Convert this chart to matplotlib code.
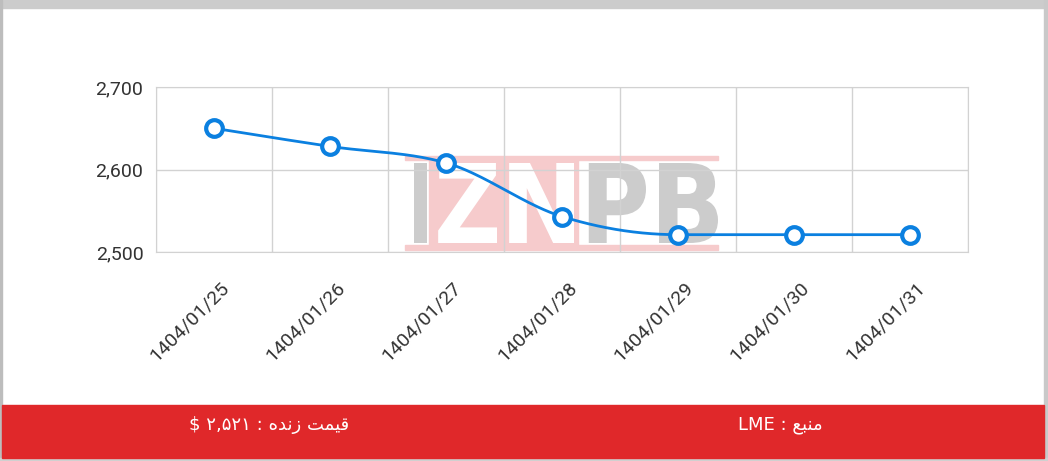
import matplotlib
matplotlib.use('Agg')
import matplotlib.pyplot as plt
import numpy as np
from matplotlib.patches import Rectangle, PathPatch
from matplotlib.textpath import TextPath
from matplotlib.font_manager import FontProperties
from matplotlib.path import Path
import matplotlib.transforms as mtransforms

# داده‌ها
dates = ['1404/01/25', '1404/01/26', '1404/01/27', '1404/01/28',
         '1404/01/29', '1404/01/30', '1404/01/31']
prices = [2650, 2628, 2608, 2543, 2521, 2521, 2521]
y_ticks = [2500, 2600, 2700]

# متن فوتر (حروف شکل‌یافته، ترتیب نمایشی چپ به راست)
live_price = '$ \u06f2,\u06f5\u06f2\u06f1 : \ufee9\ufeaa\ufee7\ufeaf \ufe96\ufee4\ufef4\ufed7'
source = 'LME : \ufeca\ufe92\ufee8\ufee3'

W, H = 1048, 461
BLUE = '#0B80E0'
RED = '#E0282A'


def monotone_curve(xs, ys, n=40):
    # منحنی monotone مثل d3 برای رسم خط نرم
    xs = np.asarray(xs, float)
    ys = np.asarray(ys, float)
    m = len(xs)
    t = np.zeros(m)
    for i in range(1, m - 1):
        h0, h1 = xs[i] - xs[i - 1], xs[i + 1] - xs[i]
        s0, s1 = (ys[i] - ys[i - 1]) / h0, (ys[i + 1] - ys[i]) / h1
        p = (s0 * h1 + s1 * h0) / (h0 + h1)
        t[i] = (np.sign(s0) + np.sign(s1)) * min(abs(s0), abs(s1), 0.5 * abs(p))
    t[0] = (3 * (ys[1] - ys[0]) / (xs[1] - xs[0]) - t[1]) / 2
    t[-1] = (3 * (ys[-1] - ys[-2]) / (xs[-1] - xs[-2]) - t[-2]) / 2
    px, py = [], []
    u = np.linspace(0, 1, n)
    for i in range(m - 1):
        dx = (xs[i + 1] - xs[i]) / 3
        P = [(xs[i], ys[i]), (xs[i] + dx, ys[i] + dx * t[i]),
             (xs[i + 1] - dx, ys[i + 1] - dx * t[i + 1]), (xs[i + 1], ys[i + 1])]
        b = [(1 - u) ** 3, 3 * (1 - u) ** 2 * u, 3 * (1 - u) * u ** 2, u ** 3]
        px.extend(sum(b[k] * P[k][0] for k in range(4)))
        py.extend(sum(b[k] * P[k][1] for k in range(4)))
    return np.array(px), np.array(py)


def fx(x):
    return x / W


def fy(y):
    return 1 - y / H


def letter(fig, ch, x0, y0, x1, y1, color):
    # یک حرف را در یک جعبه پیکسلی قرار می‌دهد
    tp = TextPath((0, 0), ch, size=100, prop=FontProperties(family='DejaVu Sans', weight='bold'))
    v = tp.vertices.copy()
    bx0, by0 = v[:, 0].min(), v[:, 1].min()
    bx1, by1 = v[:, 0].max(), v[:, 1].max()
    v[:, 0] = fx(x0) + (v[:, 0] - bx0) / (bx1 - bx0) * (fx(x1) - fx(x0))
    v[:, 1] = fy(y1) + (v[:, 1] - by0) / (by1 - by0) * (fy(y0) - fy(y1))
    fig.patches.append(PathPatch(Path(v, tp.codes), facecolor=color, edgecolor='none',
                                 transform=fig.transFigure, zorder=1))


fig = plt.figure(figsize=(W / 100, H / 100), dpi=100)
fig.patch.set_facecolor('white')

# قاب خاکستری دور تصویر
fig.patches.append(Rectangle((0, fy(8)), 1, 8 / H, transform=fig.transFigure, color='#CCCCCC', zorder=0))
fig.patches.append(Rectangle((0, 0), 2 / W, 1, transform=fig.transFigure, color='#BDBDBD', zorder=0))
fig.patches.append(Rectangle((fx(1044), 0), 4 / W, 1, transform=fig.transFigure, color='#C9C9C9', zorder=0))
fig.patches.append(Rectangle((0, 0), 1, 3 / H, transform=fig.transFigure, color='#D0D0D0', zorder=0))
# نوار قرمز پایین
fig.patches.append(Rectangle((fx(2), fy(458)), fx(1042), 53 / H, transform=fig.transFigure,
                             color=RED, zorder=0))

# واترمارک
PINK = '#F6CBCC'
GRAY = '#CCCCCC'
fig.patches.append(Rectangle((fx(405), fy(160)), fx(313), 4 / H, transform=fig.transFigure, color=PINK, zorder=1))
fig.patches.append(Rectangle((fx(405), fy(250)), fx(313), 5 / H, transform=fig.transFigure, color=PINK, zorder=1))
fig.patches.append(Rectangle((fx(429), fy(248)), fx(149), 90 / H, transform=fig.transFigure, color=PINK, zorder=1))
letter(fig, 'I', 408, 163, 427, 243, GRAY)
letter(fig, 'Z', 434, 163, 497, 243, 'white')
letter(fig, 'N', 500, 163, 574, 243, 'white')
letter(fig, 'P', 580, 163, 646, 243, GRAY)
letter(fig, 'B', 650, 163, 718, 243, GRAY)

ax = fig.add_axes([fx(156), fy(252), (968 - 156) / W, (252 - 87) / H])
ax.set_facecolor('none')
ax.set_zorder(2)

x = np.arange(len(dates))
cx, cy = monotone_curve(x, prices)
ax.plot(cx, cy, color=BLUE, lw=2, zorder=3)
ax.plot(x, prices, 'o', ms=12, mfc='white', mec=BLUE, mew=3, zorder=4)

ax.set_xlim(-0.5, len(dates) - 0.5)
ax.set_ylim(2500, 2700)
ax.set_xticks(np.arange(len(dates) + 1) - 0.5)
ax.set_xticklabels([])
ax.set_yticks(y_ticks)
ax.set_yticklabels(['{:,}'.format(v) for v in y_ticks])
ax.tick_params(length=0, labelsize=14, labelcolor='#333333', pad=9)
for lb in ax.get_yticklabels():
    lb.set_family('Roboto')
ax.grid(True, color='#D2D2D2', lw=1)
for s in ax.spines.values():
    s.set_color('#D2D2D2')

# برچسب‌های چرخیده محور افقی
offset = mtransforms.ScaledTranslation(12 / 100, -33 / 100, fig.dpi_scale_trans)
trans = ax.get_xaxis_transform() + offset
for i, d in enumerate(dates):
    ax.text(i, 0, d, transform=trans, rotation=45, ha='right', va='center',
            rotation_mode='anchor', fontsize=14, color='#333333', family='Roboto')

fig.text(fx(269), fy(425), live_price, color='white', fontsize=13, ha='center', va='center',
         family=['DejaVu Sans'])
fig.text(fx(780), fy(425), source, color='white', fontsize=13, ha='center', va='center',
         family=['DejaVu Sans'])

fig.savefig('out.png', dpi=100)
